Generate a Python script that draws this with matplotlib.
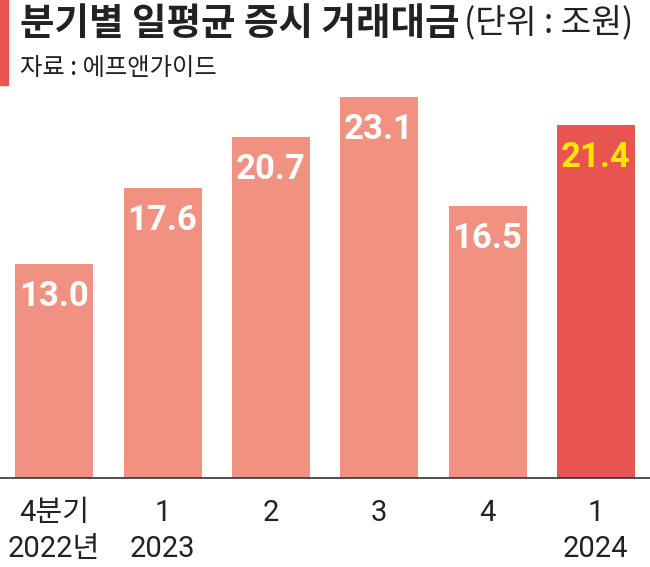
import matplotlib.pyplot as plt
from matplotlib.patches import Rectangle

# 데이터
quarters = ['4분기\n2022년', '1\n2023', '2', '3', '4', '1\n2024']
values = [13.0, 17.6, 20.7, 23.1, 16.5, 21.4]
value_labels = ['13.0', '17.6', '20.7', '23.1', '16.5', '21.4']

light_red = '#F09182'
dark_red = '#E8544F'
colors = [light_red] * 5 + [dark_red]
label_colors = ['white'] * 5 + ['#FFE600']

fig = plt.figure(figsize=(6.5, 5.67), dpi=100, facecolor='w')
ax = fig.add_axes([0, (567 - 478) / 567, 1, (478 - 90) / 567])

x = list(range(len(values)))
ax.bar(x, values, width=0.72, color=colors, zorder=2)
ax.set_xlim(-0.5, 5.5)
ax.set_ylim(0, 23.52)

for i, v in enumerate(values):
    ax.text(i, v - 2.0, value_labels[i], ha='center', va='center',
            color=label_colors[i], fontsize=25, fontweight='bold',
            family=['Roboto', 'DejaVu Sans'])

ax.set_xticks(x)
ax.set_xticklabels(quarters, family=['Roboto', 'Noto Sans CJK KR'],
                   fontsize=21, color='#222222', linespacing=1.35, va='top')
ax.tick_params(axis='x', length=0, pad=15)
ax.set_yticks([])
for s in ['top', 'right', 'left']:
    ax.spines[s].set_visible(False)
ax.spines['bottom'].set_color('#333333')
ax.spines['bottom'].set_linewidth(1.2)

# 왼쪽 빨간 세로 막대
fig.patches.append(Rectangle((0, (567 - 85) / 567), 8 / 650, 85 / 567,
                             transform=fig.transFigure, color=dark_red))

fig.text(20 / 650, 1 - 24 / 567, '분기별 일평균 증시 거래대금', family='Noto Sans CJK KR',
         fontsize=27, fontweight='bold', color='#222222', va='center', ha='left')
fig.text(464 / 650, 1 - 24 / 567, '(단위 : 조원)', family='Noto Sans CJK KR',
         fontsize=24, color='#222222', va='center', ha='left')
fig.text(20 / 650, 1 - 68 / 567, '자료 : 에프앤가이드', family='Noto Sans CJK KR',
         fontsize=17.5, color='#222222', va='center', ha='left')

plt.savefig('out.png', dpi=100)
